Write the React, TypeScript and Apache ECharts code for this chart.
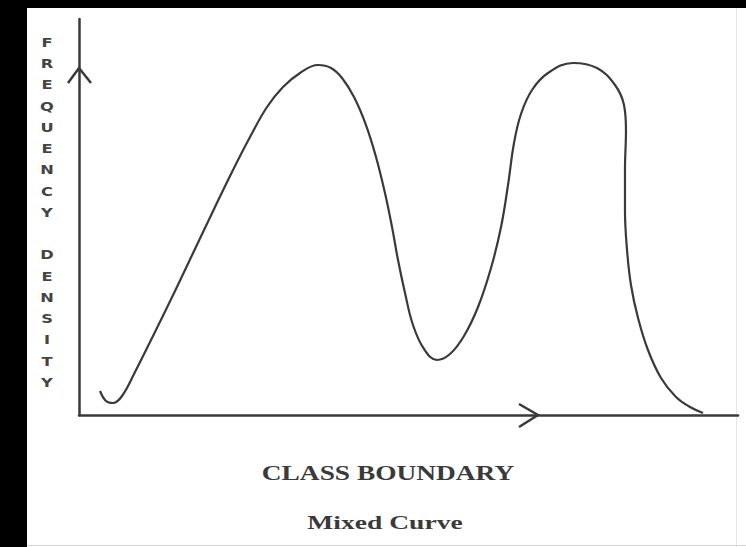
import React, { useEffect, useRef } from "react";
import * as echarts from "echarts";

// Class boundary (x) and frequency density (y)
const classBoundary = [
  3.19, 4.1, 5.16, 6.53, 8.5, 11.53, 14.57, 17.6, 20.64, 23.37, 25.95, 28.53,
  30.96, 33.54, 36.27, 38.24, 39.91, 41.73, 43.55, 45.07, 46.43, 47.5, 48.41,
  49.47, 50.68, 52.35, 54.32, 56.3, 58.42, 60.55, 62.52, 64.04, 65.1, 66.01,
  67.07, 68.74, 71.17, 74.96, 78.6, 81.34, 82.7, 83.0, 82.85, 82.85, 83.16,
  83.76, 84.83, 86.34, 88.32, 90.59, 92.72, 94.69,
];
const frequencyDensity = [
  6.06, 3.54, 3.03, 4.8, 10.86, 20.96, 31.31, 41.92, 52.53, 61.87, 70.2, 77.78,
  82.83, 86.36, 88.38, 87.63, 85.1, 80.3, 73.23, 65.15, 56.06, 47.47, 39.14,
  30.81, 22.73, 16.67, 13.89, 15.4, 19.95, 27.27, 37.12, 47.47, 58.08, 68.69,
  76.01, 82.07, 86.36, 88.89, 87.63, 83.33, 78.28, 71.97, 61.87, 51.77, 41.67,
  32.83, 24.49, 16.41, 9.34, 4.55, 2.02, 0.51,
];
const yLabelLetters = ["F", "R", "E", "Q", "U", "E", "N", "C", "Y", "", "D", "E", "N", "S", "I", "T", "Y"];
const xLabel = "CLASS BOUNDARY";
const captionText = "Mixed Curve";

export default function App() {
  const ref = useRef<HTMLDivElement>(null);
  useEffect(() => {
    if (!ref.current) return;
    const chart = echarts.init(ref.current, null, { renderer: "svg" });
    const data = classBoundary.map((x, i) => [x, frequencyDensity[i]]);
    const ink = "#3a3a3a";
    chart.setOption({
      animation: false,
      backgroundColor: "#ffffff",
      grid: { left: 79, right: 8, top: 19, bottom: 132 },
      xAxis: {
        type: "value",
        min: 0,
        max: 100,
        axisLine: { show: true, lineStyle: { color: ink, width: 2.5 } },
        axisTick: { show: false },
        axisLabel: { show: false },
        splitLine: { show: false },
      },
      yAxis: {
        type: "value",
        min: 0,
        max: 100,
        axisLine: { show: true, lineStyle: { color: ink, width: 2.5 } },
        axisTick: { show: false },
        axisLabel: { show: false },
        splitLine: { show: false },
      },
      series: [
        {
          type: "line",
          data,
          smooth: 0.4,
          symbol: "none",
          lineStyle: { color: ink, width: 2.2 },
        },
      ],
      graphic: [
        { type: "rect", shape: { x: 0, y: 0, width: 27, height: 547 }, style: { fill: "#000" }, silent: true },
        { type: "rect", shape: { x: 0, y: 0, width: 746, height: 8 }, style: { fill: "#000" }, silent: true },
        { type: "line", shape: { x1: 736.5, y1: 8, x2: 736.5, y2: 547 }, style: { stroke: "#e6e6e6", lineWidth: 1 }, silent: true },
        { type: "line", shape: { x1: 27, y1: 545.5, x2: 746, y2: 545.5 }, style: { stroke: "#d8d8d8", lineWidth: 1 }, silent: true },
        {
          type: "polyline",
          shape: { points: [[68, 83], [79, 68], [91, 83]] },
          style: { stroke: ink, lineWidth: 2.5, fill: null },
          silent: true,
        },
        {
          type: "polyline",
          shape: { points: [[519, 404], [538, 415], [519, 427]] },
          style: { stroke: ink, lineWidth: 2.5, fill: null },
          silent: true,
        },
        {
          type: "text",
          x: 47,
          y: 212,
          scaleX: 1.25,
          style: {
            text: yLabelLetters.join("\n"),
            font: 'bold 13px "DejaVu Sans"',
            fill: "#444",
            align: "center",
            verticalAlign: "middle",
            lineHeight: 21.25,
          },
          silent: true,
        },
        {
          type: "text",
          x: 388,
          y: 473,
          scaleX: 1.37,
          style: {
            text: xLabel,
            font: 'bold 20px "Liberation Serif"',
            fill: "#3a3a3a",
            align: "center",
            verticalAlign: "middle",
          },
          silent: true,
        },
        {
          type: "text",
          x: 385,
          y: 523,
          scaleX: 1.45,
          style: {
            text: captionText,
            font: 'bold 19px "Liberation Serif"',
            fill: "#3a3a3a",
            align: "center",
            verticalAlign: "middle",
          },
          silent: true,
        },
      ],
    });
    return () => chart.dispose();
  }, []);
  return (
    <div
      ref={ref}
      style={{ position: "fixed", left: 0, top: 0, width: 746, height: 547 }}
    />
  );
}
